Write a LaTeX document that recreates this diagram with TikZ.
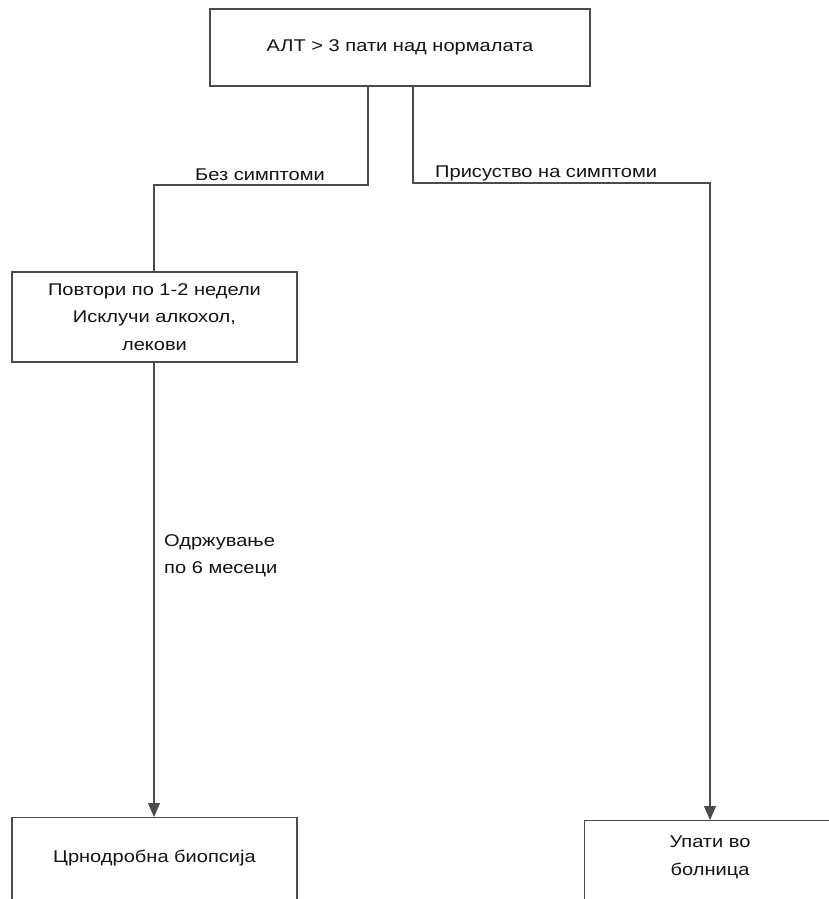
\documentclass[tikz,border=0pt]{standalone}
\usepackage{fontspec}
\setmainfont{Liberation Sans}[FakeStretch=1.18]
\usetikzlibrary{arrows.meta}
\definecolor{linec}{RGB}{75,75,75}
\definecolor{textc}{RGB}{20,20,20}
\tikzset{
  box/.style={draw=linec, line width=1.1pt, rectangle, inner sep=0pt, text=textc, align=center},
  conn/.style={draw=linec, line width=1.1pt},
  arr/.style={conn, -{Triangle[width=12pt,length=14pt]}},
  lbl/.style={text=textc, inner sep=0pt, align=left},
}
\begin{document}
\begin{tikzpicture}[x=1pt,y=-1pt, font=\fontsize{17}{27.5}\selectfont]
\useasboundingbox (0,0) rectangle (829,899);
\clip (0,0) rectangle (829,899);
\fill[white] (0,0) rectangle (829,899);
% boxes
\node[box, minimum width=380, minimum height=77] (top) at (400,47.5) {АЛТ > 3 пати над нормалата};
\node[box, minimum width=285, minimum height=90] (mid) at (154.5,317) {Повтори по 1-2 недели\\Исклучи алкохол,\\лекови};
\node[box, minimum width=285, minimum height=100, anchor=north] (bl) at (154.5,817) {};
\node[lbl] (blt) at (154.5,858) {Црнодробна биопсија};
\node[box, minimum width=300, minimum height=100, anchor=north west] (br) at (584,820) {};
\node[lbl, align=center] (brt) at (710,857.5) {Упати во\\болница};
% corners
\coordinate (lc) at (154,185);
\coordinate (rc) at (710,183);
% connectors
\draw[conn] ([xshift=-32pt]top.south) |- (lc) -- (lc |- mid.north);
\draw[arr] ([xshift=13pt]top.south) |- (rc) -- (rc |- br.north);
\draw[arr] (mid.south -| lc) -- (lc |- bl.north);
% labels
\node[lbl] (l1) at (260,175) {Без симптоми};
\node[lbl, anchor=west] (l2) at (435,173) {Присуство на симптоми};
\node[lbl, anchor=north west] (l3) at (164,534) {Одржување\\по 6 месеци};
\end{tikzpicture}
\end{document}
